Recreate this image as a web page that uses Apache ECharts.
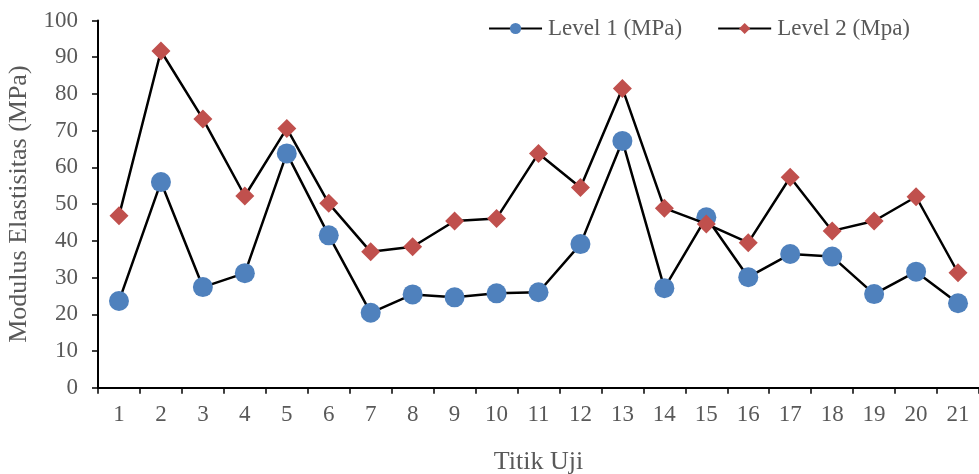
<!DOCTYPE html>
<html><head><meta charset="utf-8">
<script src="https://cdn.jsdelivr.net/npm/echarts@6/dist/echarts.min.js"></script>
<style>html,body{margin:0;padding:0;background:#fff}#c{width:979px;height:474px}</style>
</head><body><div id="c"></div>
<script>
const categories = ['1','2','3','4','5','6','7','8','9','10','11','12','13','14','15','16','17','18','19','20','21'];
const level1 = [23.6, 56.0, 27.4, 31.2, 63.8, 41.5, 20.4, 25.4, 24.6, 25.7, 26.0, 39.1, 67.2, 27.1, 46.4, 30.1, 36.4, 35.7, 25.5, 31.6, 23.0];
const level2 = [46.8, 91.7, 73.2, 52.2, 70.6, 50.2, 37.0, 38.4, 45.4, 46.1, 63.8, 54.5, 81.5, 48.9, 44.6, 39.5, 57.3, 42.7, 45.4, 52.0, 31.3];
const seriesNames = ['Level 1 (MPa)', 'Level 2 (Mpa)'];
const font = '"Liberation Serif", "Times New Roman", serif';
const textColor = '#595959';
const chart = echarts.init(document.getElementById('c'));
chart.setOption({
  animation: false,
  backgroundColor: '#fff',
  textStyle: {fontFamily: font},
  grid: {left: 98, top: 20.5, right: 0, bottom: 86.3, containLabel: false, outerBoundsMode: 'none'},
  legend: {
    top: 12, right: 64, itemGap: 35, itemWidth: 53, itemHeight: 14,
    textStyle: {fontFamily: font, fontSize: 23, color: textColor, padding: [0, 0, 0, 1]},
    data: seriesNames
  },
  xAxis: {
    type: 'category', data: categories, boundaryGap: true,
    name: 'Titik Uji', nameLocation: 'middle', nameGap: 61,
    nameTextStyle: {fontFamily: font, fontSize: 26, color: textColor},
    axisLine: {lineStyle: {color: '#000', width: 2}},
    axisTick: {show: true, length: 6, lineStyle: {color: '#000', width: 1.5}},
    axisLabel: {fontFamily: font, fontSize: 23, color: textColor, margin: 16}
  },
  yAxis: {
    type: 'value', min: 0, max: 100, interval: 10,
    name: 'Modulus Elastisitas (MPa)', nameLocation: 'middle', nameGap: 66,
    nameTextStyle: {fontFamily: font, fontSize: 26, color: textColor},
    axisLine: {show: true, lineStyle: {color: '#000', width: 2}},
    axisTick: {show: true, length: 6, lineStyle: {color: '#000', width: 1.5}},
    axisLabel: {fontFamily: font, fontSize: 23, color: textColor, margin: 20},
    splitLine: {show: false}
  },
  series: [
    {name: seriesNames[0], type: 'line', data: level1, symbol: 'circle', symbolSize: 20,
     lineStyle: {color: '#000', width: 2.5}, itemStyle: {color: '#4f81bd'}, z: 2},
    {name: seriesNames[1], type: 'line', data: level2, symbol: 'diamond', symbolSize: [19, 19],
     lineStyle: {color: '#000', width: 2.5}, itemStyle: {color: '#c0504d'}, z: 3}
  ]
});
</script></body></html>
